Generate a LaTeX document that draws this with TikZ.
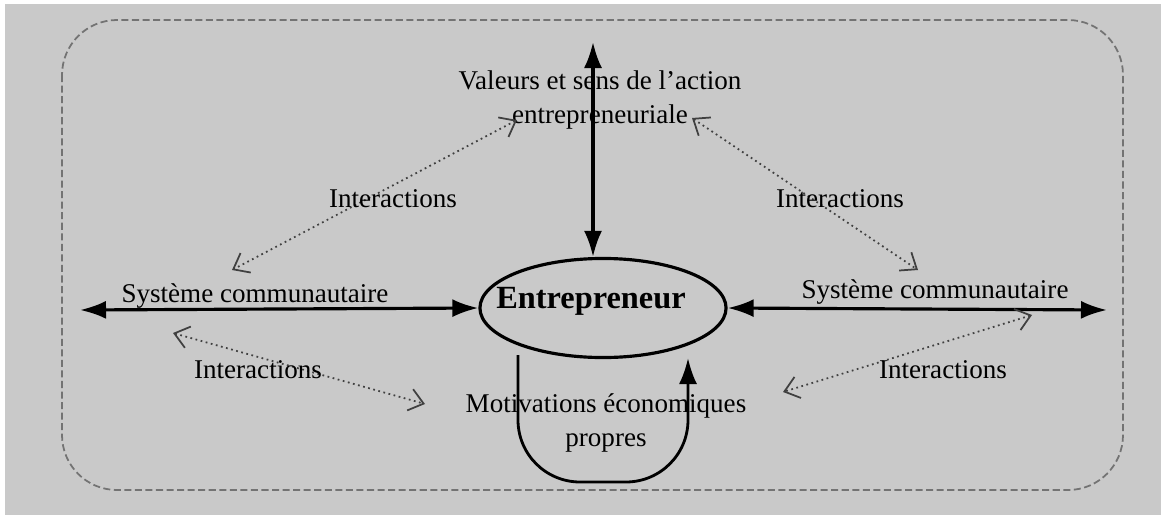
\documentclass[tikz,border=0pt]{standalone}
\usepackage{fontspec}
\setmainfont{Liberation Serif}
\usetikzlibrary{arrows.meta,shapes,calc}
\definecolor{fond}{HTML}{C9C9C9}
\tikzset{lbl/.style={inner sep=1pt, font=\fontsize{7.7}{9.7}\selectfont, align=center},
  fort/.style={line width=0.9pt, {Latex[length=2.6mm,width=1.8mm]}-{Latex[length=2.6mm,width=1.8mm]}},
  inter/.style={densely dotted, line width=0.5pt, black!75,
    {Straight Barb[length=1.4mm,width=2.2mm]}-{Straight Barb[length=1.4mm,width=2.2mm]}}}

\begin{document}
\begin{tikzpicture}[x=0.01cm, y=-0.01cm]
\useasboundingbox (0,0) rectangle (1161,515);
\fill[white] (0,0) rectangle (1161,515);
\fill[fond] (5,4) rectangle (1161,515);
\draw[black!55, line width=0.5pt, dash pattern=on 2pt off 1pt, rounded corners=0.55cm] (62,20) rectangle (1123,490);
% acteur central
\node (ent) at (603,308) [ellipse, draw, line width=0.9pt, minimum width=2.46cm, minimum height=0.99cm, inner sep=0pt] {};
\node (entTxt) at (591,301) [inner sep=0pt, font=\fontsize{9.2}{11}\selectfont\bfseries] {Entrepreneur};
\coordinate (top) at (593,42);
\coordinate (sysL) at (80,310);
\coordinate (sysR) at (1107,310);
\node (val) at (600,100) [lbl] {Valeurs et sens de l'action\\entrepreneuriale};
\node (comL) at (255,296) [lbl] {Système communautaire};
\node (comR) at (935,292) [lbl] {Système communautaire};
\node (mot) at (606,423) [lbl] {Motivations économiques\\propres};
\draw[fort] (top) -- (ent.north -| top);
\draw[fort] (sysL) -- (ent.west);
\draw[fort] (ent.east) -- (sysR);
% boucle des motivations
\coordinate (loopA) at (518,355);
\coordinate (loopB) at (688,358);
\draw[line width=0.8pt, -{Latex[length=2.6mm,width=1.8mm]}, rounded corners=0.62cm] (loopA) -- (518,482) -- (688,482) -- (loopB);
% interactions
\coordinate (i1a) at (517,120); \coordinate (i1b) at (232,270);
\coordinate (i2a) at (692,118); \coordinate (i2b) at (918,270);
\coordinate (i3a) at (173,333); \coordinate (i3b) at (425,404);
\coordinate (i4a) at (1032,315); \coordinate (i4b) at (783,392);
\draw[inter] (i1a) -- (i1b);
\draw[inter] (i2a) -- (i2b);
\draw[inter] (i3a) -- (i3b);
\draw[inter] (i4a) -- (i4b);
\node (int1) at (393,199) [lbl] {Interactions};
\node (int2) at (840,199) [lbl] {Interactions};
\node (int3) at (258,370) [lbl] {Interactions};
\node (int4) at (943,370) [lbl] {Interactions};
\end{tikzpicture}
\end{document}
